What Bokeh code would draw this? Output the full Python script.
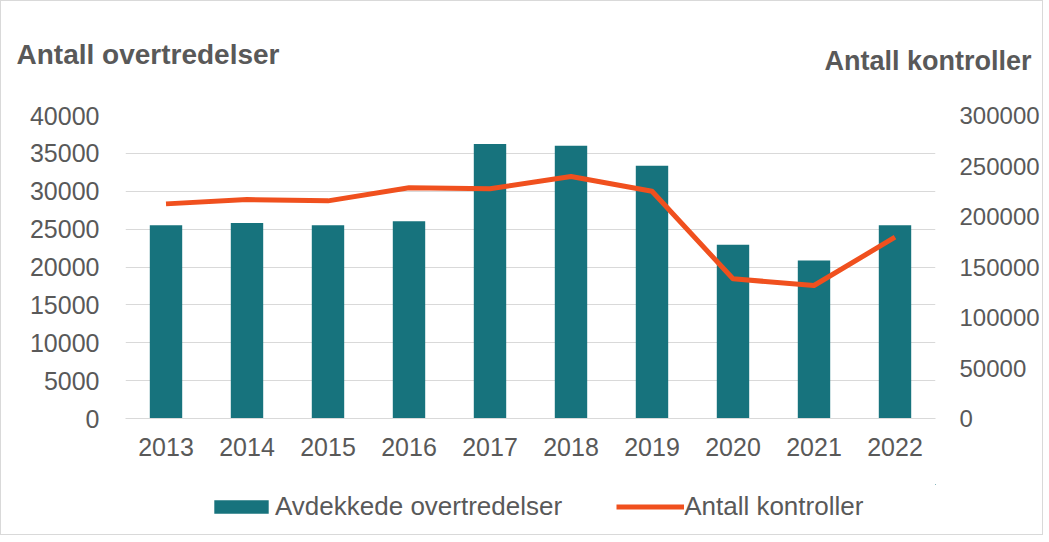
from bokeh.plotting import figure
from bokeh.layouts import column
from bokeh.models import (ColumnDataSource, FactorRange, Range1d, LinearAxis, Title,
                          SingleIntervalTicker, BasicTickFormatter, Legend, LegendItem)
from bokeh.embed import file_html
from bokeh.resources import INLINE

years = ["2013", "2014", "2015", "2016", "2017", "2018", "2019", "2020", "2021", "2022"]
overtredelser = [25500, 25800, 25500, 26050, 36250, 36000, 33350, 22950, 20850, 25500]
kontroller = [212500, 216800, 215500, 228400, 227400, 239600, 225000, 138300, 131700, 179500]

left_title = "Antall overtredelser"
right_title = "Antall kontroller"
bar_label = "Avdekkede overtredelser"
line_label = "Antall kontroller"

TEAL = "#17737d"
ORANGE = "#f0501e"
GREY = "#595959"
FONT = "Liberation Sans"

src = ColumnDataSource(dict(year=years, over=overtredelser, kontr=kontroller))

p = figure(width=1041, height=483, x_range=FactorRange(*years, range_padding=0),
           y_range=Range1d(0, 40000), output_backend="svg", toolbar_location=None,
           min_border_left=124, min_border_right=102, min_border_top=114, min_border_bottom=66)
p.outline_line_color = None
p.extra_y_ranges = {"right": Range1d(0, 300000)}

bars = p.vbar(x="year", top="over", width=0.4, source=src, color=TEAL, line_color=None)
line = p.line(x="year", y="kontr", source=src, y_range_name="right",
              line_color=ORANGE, line_width=5, line_join="round")

p.xgrid.grid_line_color = None
p.ygrid.grid_line_color = "#d9d9d9"
p.ygrid.grid_line_width = 1
p.yaxis.ticker = SingleIntervalTicker(interval=5000)
p.yaxis.formatter = BasicTickFormatter(use_scientific=False)

right = LinearAxis(y_range_name="right", ticker=SingleIntervalTicker(interval=50000),
                   formatter=BasicTickFormatter(use_scientific=False))
p.add_layout(right, "right")

for ax in [p.xaxis[0], p.yaxis[0], right]:
    ax.axis_line_color = None
    ax.major_tick_line_color = None
    ax.minor_tick_line_color = None
    ax.major_tick_out = 0
    ax.major_tick_in = 0
    ax.major_label_text_font = FONT
    ax.major_label_text_font_size = "25px"
    ax.major_label_text_color = GREY
p.yaxis[0].major_label_standoff = 22
right.major_label_standoff = 20
right.major_label_text_font_size = "24px"
p.xaxis[0].major_label_standoff = 19
p.xaxis[0].axis_line_color = "#d9d9d9"

# axis titles in the "above" panel (right one nearest the frame)
t_right = Title(text=right_title, align="left", offset=699, standoff=79,
                text_font=FONT, text_font_style="bold", text_font_size="27px",
                text_color=GREY)
t_left = Title(text=left_title, align="left", offset=-109, standoff=-130,
               text_font=FONT, text_font_style="bold", text_font_size="28px",
               text_color=GREY)
p.add_layout(t_right, "above")
p.add_layout(t_left, "above")

# legend strip below the chart: its renderers map far outside its own ranges
# (zero-height bars), so only the legend swatches are visible
leg = figure(width=1041, height=50, x_range=Range1d(0, 1041), y_range=Range1d(0, 50),
             output_backend="svg", toolbar_location=None, min_border=0,
             x_axis_location=None, y_axis_location=None)
leg.outline_line_color = None
leg.grid.visible = False
lbar = leg.vbar(x="over", top="over", bottom="over", width=1, source=src,
                color=TEAL, line_color=None)
lline = leg.line(x="over", y="over", source=src, line_color=ORANGE, line_width=5)

legend = Legend(items=[LegendItem(label=bar_label, renderers=[lbar]),
                       LegendItem(label=line_label, renderers=[lline])],
                orientation="horizontal", location=(82, 12),
                label_text_font=FONT, label_text_font_size="26px", label_text_color=GREY,
                glyph_width=68, glyph_height=17, label_standoff=0, spacing=54,
                padding=0, margin=0, border_line_color=None, background_fill_alpha=0)
leg.add_layout(legend, "center")

layout = column(p, leg, spacing=0,
                styles={"border": "1px solid #d9d9d9", "box-sizing": "border-box"})

open("out.html", "w").write(file_html(layout, INLINE))
